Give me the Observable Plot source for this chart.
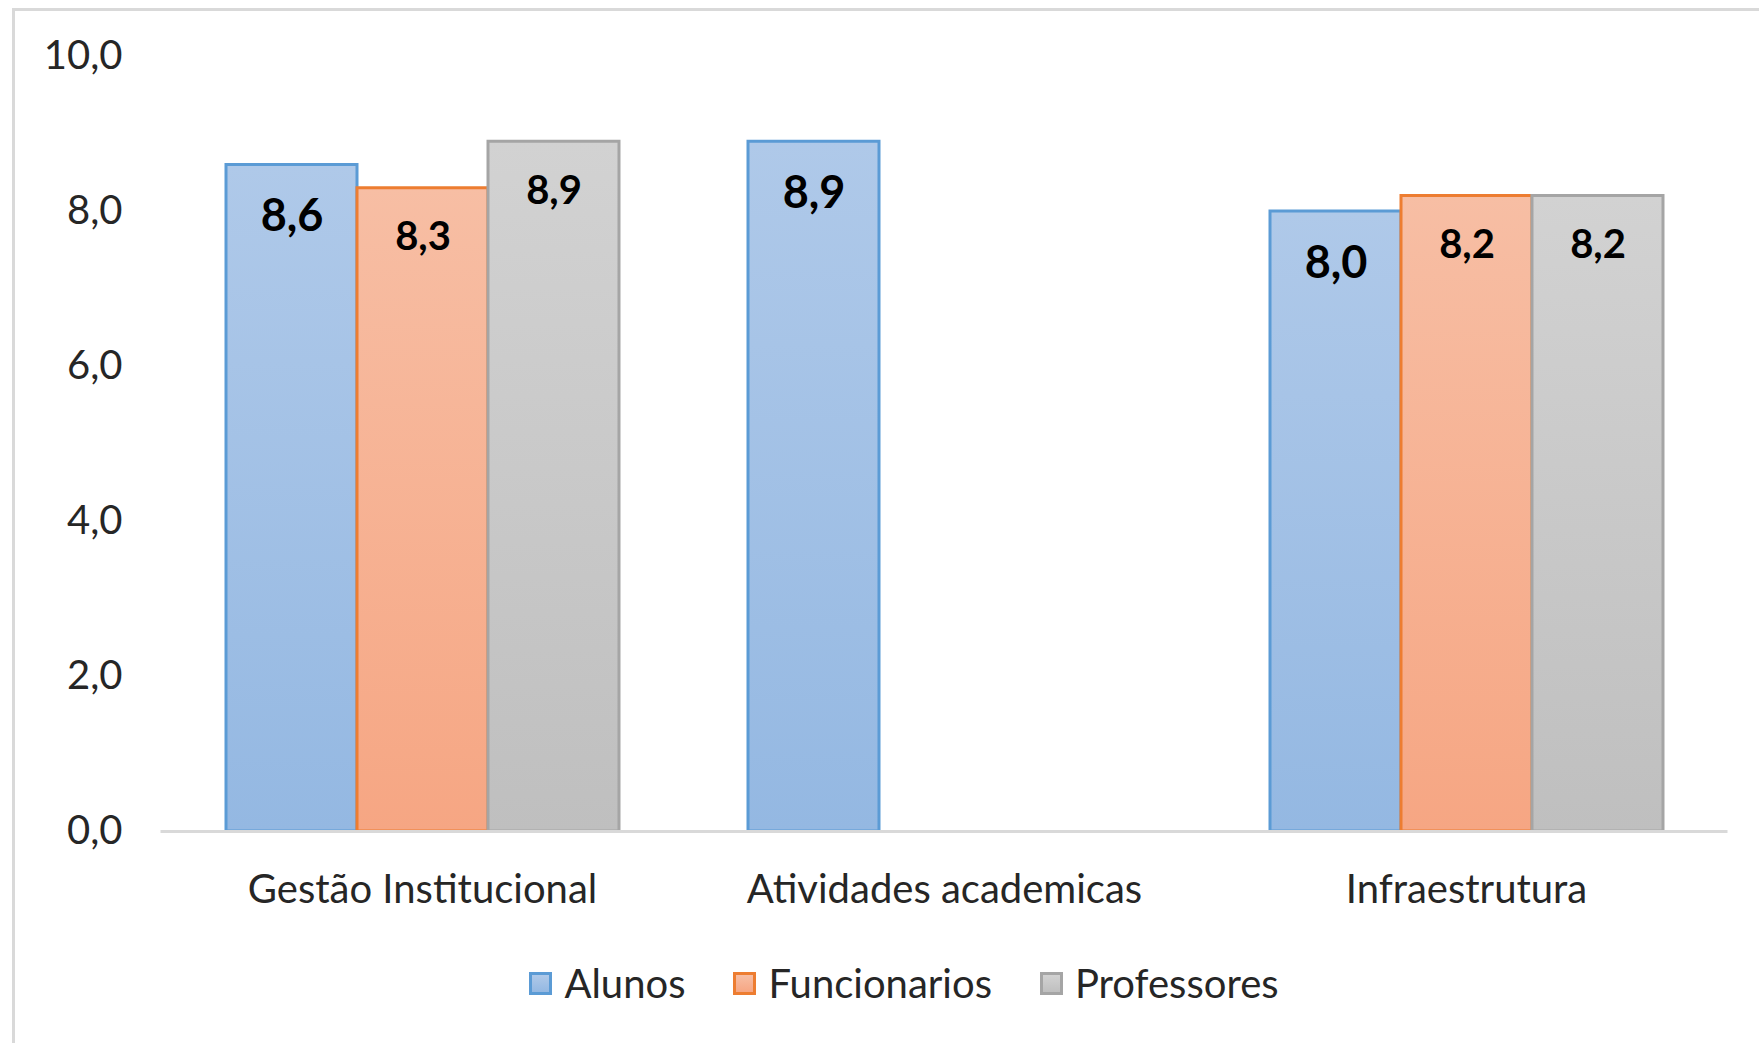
<!DOCTYPE html>
<html>
<head>
<meta charset="utf-8">
<script src="https://cdn.jsdelivr.net/npm/d3@7"></script>
<script src="https://cdn.jsdelivr.net/npm/@observablehq/plot@0.6"></script>
<style>
  html, body { margin: 0; padding: 0; background: #fff; overflow: hidden; width: 1759px; height: 1043px; }
  #frame { position: absolute; left: 12px; top: 8px; width: 1800px; height: 1100px; border: 3px solid #d9d9d9; box-sizing: border-box; }
  #chart { position: absolute; left: 0; top: 0; }
  #legend { position: absolute; left: 0; top: 958px; width: 1808px; height: 50px; display: flex; justify-content: center; align-items: center; gap: 48px; font-family: Lato, sans-serif; font-size: 40px; color: #262626; }
  .item { display: flex; align-items: center; gap: 12px; }
  .sw { width: 23px; height: 23px; box-sizing: border-box; border: 3px solid; }
</style>
</head>
<body>
<div id="frame"></div>
<div id="chart"></div>
<div id="legend"></div>
<script>
// ---- data ----
const categories = ["Gestão Institucional", "Atividades academicas", "Infraestrutura"];
const series = ["Alunos", "Funcionarios", "Professores"];
const alunos = [8.6, 8.9, 8.0];
const funcionarios = [8.3, null, 8.2];
const professores = [8.9, null, 8.2];
const yTicks = [0, 2, 4, 6, 8, 10];

// ---- styles ----
const strokeFor = {Alunos: "#5b9bd5", Funcionarios: "#ed7d31", Professores: "#a5a5a5"};
const gradFor = {
  Alunos: ["#afc9e9", "#94b8e2"],
  Funcionarios: ["#f7bea4", "#f6a683"],
  Professores: ["#d2d2d2", "#bfbfbf"]
};
const fillFor = {Alunos: "url(#grad-Alunos)", Funcionarios: "url(#grad-Funcionarios)", Professores: "url(#grad-Professores)"};
const labelSize = {Alunos: 45, Funcionarios: 40, Professores: 40};
const labelDy = {Alunos: 52, Funcionarios: 49, Professores: 49};

const valuesBySeries = {Alunos: alunos, Funcionarios: funcionarios, Professores: professores};
const table = [];
series.forEach(s => categories.forEach((c, i) => {
  const v = valuesBySeries[s][i];
  if (v != null) table.push({category: c, series: s, value: v});
}));

const fmt = d => d.toFixed(1).replace(".", ",");

const labelMarks = series.map(s => Plot.text(table.filter(d => d.series === s), {
  fx: "category", x: "series", y: "value", text: d => fmt(d.value),
  dy: labelDy[s], lineAnchor: "middle", fontSize: labelSize[s], fontWeight: "bold", fill: "#000"
}));

const plot = Plot.plot({
  width: 1759,
  height: 920,
  marginLeft: 160,
  marginRight: 31,
  marginTop: 56,
  marginBottom: 89,
  style: {fontFamily: "Lato, sans-serif", fontSize: "40px", color: "#262626", background: "transparent"},
  fx: {domain: categories, paddingInner: 0.246, paddingOuter: 0.123, label: null, axis: "bottom", tickSize: 0, tickPadding: 43},
  x: {domain: series, padding: 0, axis: null},
  y: {domain: [0, 10], ticks: yTicks, tickFormat: fmt, tickSize: 0, tickPadding: 103, label: null},
  color: {type: "identity"},
  marks: [
    Plot.barY(table, {fx: "category", x: "series", y: "value", fill: d => fillFor[d.series], stroke: d => strokeFor[d.series], strokeWidth: 3}),
    Plot.ruleY([0], {stroke: "#d9d9d9", strokeWidth: 3, insetLeft: -64.5, insetRight: -64.5}),
    ...labelMarks
  ]
});

// gradient definitions
const svg = plot.tagName.toLowerCase() === "svg" ? plot : plot.querySelector("svg");
const defs = d3.select(svg).insert("defs", ":first-child");
series.forEach(s => {
  const g = defs.append("linearGradient").attr("id", "grad-" + s).attr("x1", 0).attr("y1", 0).attr("x2", 0).attr("y2", 1);
  g.append("stop").attr("offset", "0%").attr("stop-color", gradFor[s][0]);
  g.append("stop").attr("offset", "100%").attr("stop-color", gradFor[s][1]);
});
document.getElementById("chart").appendChild(plot);

// legend
const legend = d3.select("#legend");
series.forEach(s => {
  const it = legend.append("div").attr("class", "item");
  it.append("div").attr("class", "sw")
    .style("border-color", strokeFor[s])
    .style("background", `linear-gradient(${gradFor[s][0]}, ${gradFor[s][1]})`);
  it.append("span").text(s);
});
</script>
</body>
</html>
